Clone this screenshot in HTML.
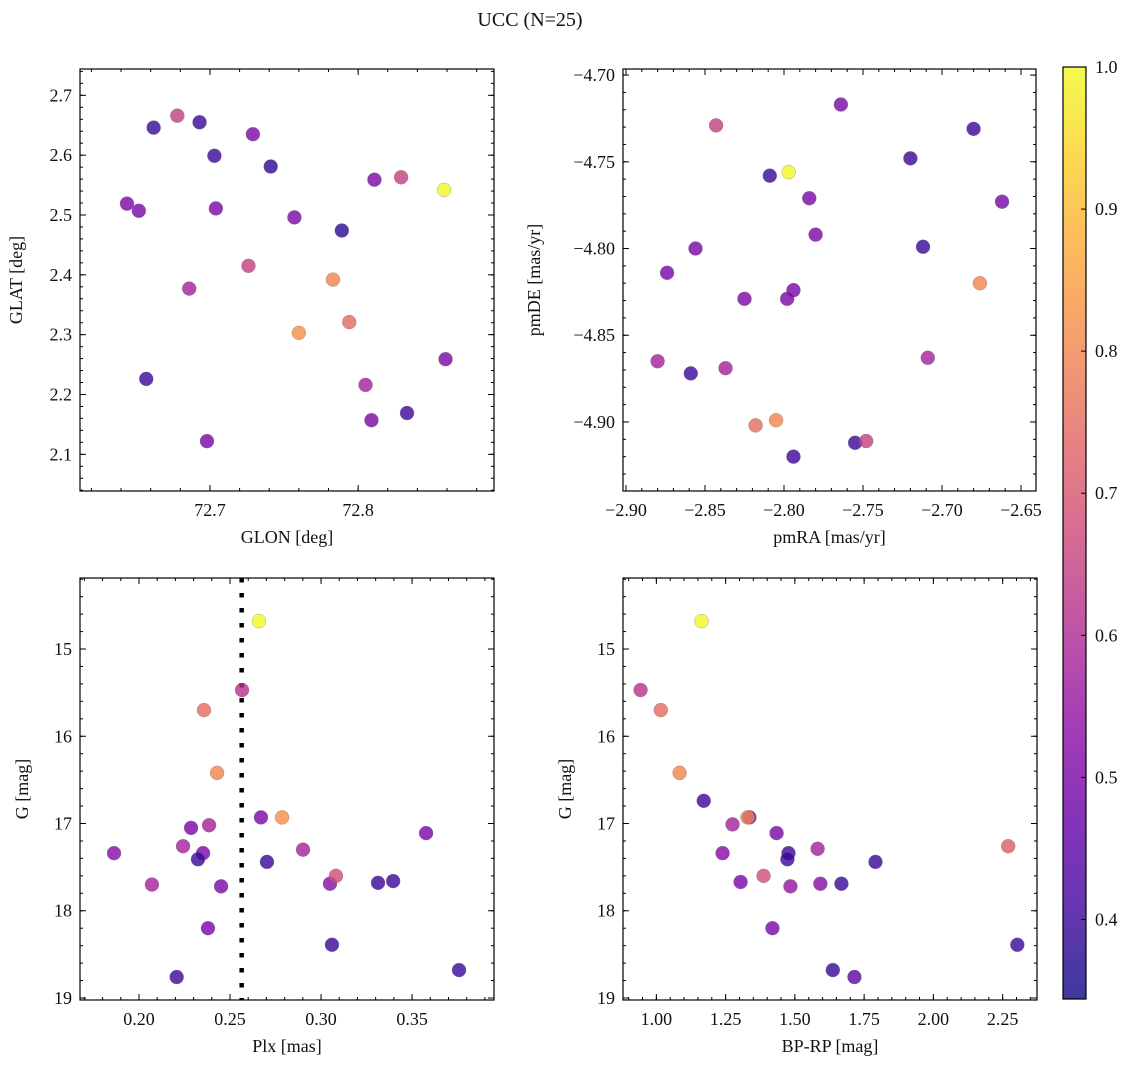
<!DOCTYPE html>
<html><head><meta charset="utf-8"><style>
body{margin:0;background:#fff;}
text{font-family:"Liberation Serif","DejaVu Serif",serif;fill:#111;}
</style></head><body>
<svg id="fig" width="1136" height="1067" viewBox="0 0 1136 1067" xmlns="http://www.w3.org/2000/svg">
<text x="530" y="26" font-size="20" text-anchor="middle" font-family="Liberation Serif, DejaVu Serif, serif">UCC (N=25)</text>
</svg>
<script>
// Panel 1: GLON vs GLAT
const glon = [72.662,72.678,72.693,72.703,72.729,72.741,72.811,72.829,72.858,72.644,72.652,72.704,72.757,72.789,72.726,72.686,72.783,72.760,72.794,72.657,72.805,72.859,72.833,72.809,72.698];
const glat = [2.646,2.666,2.655,2.599,2.635,2.581,2.559,2.563,2.542,2.519,2.507,2.511,2.496,2.474,2.415,2.377,2.392,2.303,2.321,2.226,2.216,2.259,2.169,2.157,2.122];
const prob1 = [0.40,0.65,0.40,0.40,0.50,0.38,0.50,0.65,1.00,0.50,0.50,0.50,0.50,0.38,0.65,0.58,0.80,0.82,0.75,0.40,0.58,0.50,0.40,0.50,0.50];
// Panel 2: pmRA vs pmDE
const pmra = [-2.764,-2.843,-2.680,-2.720,-2.809,-2.797,-2.662,-2.784,-2.780,-2.712,-2.856,-2.874,-2.794,-2.798,-2.825,-2.676,-2.880,-2.859,-2.837,-2.709,-2.805,-2.818,-2.755,-2.748,-2.794];
const pmde = [-4.717,-4.729,-4.731,-4.748,-4.758,-4.756,-4.773,-4.771,-4.792,-4.799,-4.800,-4.814,-4.824,-4.829,-4.829,-4.820,-4.865,-4.872,-4.869,-4.863,-4.899,-4.902,-4.912,-4.911,-4.920];
const prob2 = [0.50,0.65,0.40,0.40,0.40,1.00,0.50,0.50,0.50,0.40,0.50,0.50,0.50,0.50,0.50,0.80,0.58,0.40,0.58,0.58,0.80,0.75,0.40,0.65,0.40];
// Panel 3: Plx vs G
const plx = [0.2659,0.2566,0.2357,0.2429,0.2286,0.2385,0.2670,0.2786,0.2242,0.2352,0.2324,0.2901,0.3577,0.1863,0.2071,0.2451,0.2703,0.3049,0.3082,0.3313,0.3396,0.2379,0.3060,0.2207,0.3758];
const gmag3 = [14.68,15.47,15.70,16.42,17.05,17.02,16.93,16.93,17.26,17.34,17.41,17.30,17.11,17.34,17.70,17.72,17.44,17.69,17.60,17.68,17.66,18.20,18.39,18.76,18.68];
const prob3 = [1.00,0.62,0.75,0.80,0.50,0.58,0.50,0.82,0.58,0.50,0.40,0.58,0.50,0.52,0.58,0.50,0.40,0.52,0.68,0.40,0.40,0.50,0.40,0.40,0.40];
const plxLine = [0.2564];
// Panel 4: BP-RP vs G
const bprp = [1.163,0.943,1.016,1.084,1.171,1.336,1.329,1.275,1.434,1.239,1.477,1.473,1.582,1.791,2.270,1.304,1.387,1.484,1.592,1.668,1.419,2.303,1.637,1.715];
const gmag4 = [14.68,15.47,15.70,16.42,16.74,16.93,16.93,17.01,17.11,17.34,17.34,17.41,17.29,17.44,17.26,17.67,17.60,17.72,17.69,17.69,18.20,18.39,18.68,18.76];
const prob4 = [1.00,0.62,0.75,0.80,0.40,0.50,0.80,0.58,0.50,0.52,0.40,0.40,0.58,0.40,0.72,0.50,0.68,0.55,0.52,0.40,0.50,0.40,0.40,0.45];
// Colorbar
const cbTicks = [0.4,0.5,0.6,0.7,0.8,0.9,1.0];
const cbMin = 0.344, cbMax = 1.0;

const NS = "http://www.w3.org/2000/svg";
const FF = "Liberation Serif, DejaVu Serif, serif";
const svg = document.getElementById('fig');
function mk(tag, attrs, parent){const e=document.createElementNS(NS,tag);for(const k in attrs)e.setAttribute(k,attrs[k]);if(tag==='text')e.setAttribute('font-family',FF);(parent||svg).appendChild(e);return e;}

const plasmaStops = ["#0d0887","#41049d","#6a00a8","#8f0da4","#b12a90","#cc4778","#e16462","#f2844b","#fca636","#fcce25","#f0f921"];
function hex2rgb(h){return [parseInt(h.substr(1,2),16),parseInt(h.substr(3,2),16),parseInt(h.substr(5,2),16)];}
function plasma(t){t=Math.max(0,Math.min(1,t));const f=t*10;const i=Math.min(9,Math.floor(f));const u=f-i;const a=hex2rgb(plasmaStops[i]),b=hex2rgb(plasmaStops[i+1]);return `rgb(${a.map((v,k)=>Math.round(v+(b[k]-v)*u)).join(',')})`;}
function colorOf(p){return plasma((p-cbMin)/(cbMax-cbMin));}

function fmt(v,d){const s=Math.abs(v).toFixed(d);return (v<-1e-9?'\u2212':'')+s;}

function panel(c){
  const g=mk('g',{});
  
  
  const X=v=>c.L+(v-c.xmin)/(c.xmax-c.xmin)*(c.R-c.L);
  const Y=v=>c.B-(v-c.ymin)/(c.ymax-c.ymin)*(c.B-c.T);
  const tk=mk('g',{stroke:'#000','stroke-width':1},g);
  
  
  for(let v=Math.ceil(c.xmin/c.xminor-1e-6)*c.xminor; v<=c.xmax+1e-9; v+=c.xminor){const x=X(v);if(x<c.L||x>c.R)continue;mk('line',{x1:x,x2:x,y1:c.B,y2:c.B-3},tk);mk('line',{x1:x,x2:x,y1:c.T,y2:c.T+3},tk);}
  for(let v=Math.ceil(c.ymin/c.yminor-1e-6)*c.yminor; v<=c.ymax+1e-9; v+=c.yminor){const y=Y(v);if(y<c.T||y>c.B)continue;mk('line',{x1:c.L,x2:c.L+3,y1:y,y2:y},tk);mk('line',{x1:c.R,x2:c.R-3,y1:y,y2:y},tk);}
  c.xmaj.forEach(v=>{const x=X(v);mk('line',{x1:x,x2:x,y1:c.B,y2:c.B-6},tk);mk('line',{x1:x,x2:x,y1:c.T,y2:c.T+6},tk);
    const t=mk('text',{x:x,y:c.B+25,'font-size':18,'text-anchor':'middle'},g);t.textContent=fmt(v,c.xd);
    
    });
  c.ymaj.forEach(v=>{const y=Y(v);mk('line',{x1:c.L,x2:c.L+6,y1:y,y2:y},tk);mk('line',{x1:c.R,x2:c.R-6,y1:y,y2:y},tk);
    const t=mk('text',{x:c.L-8,y:y+6,'font-size':18,'text-anchor':'end'},g);t.textContent=c.yneg?fmt(-v,c.yd):fmt(v,c.yd);
    
    });
  if(c.vline){c.vline.forEach(v=>{const l=mk('line',{x1:X(v),x2:X(v),y1:c.T,y2:c.B,stroke:'#000','stroke-width':4.5,'stroke-dasharray':'4.5 10.5'},g);
    
    });}
  const pts=mk('g',{},g);
  
  
  c.xs.forEach((xv,i)=>{const p=mk('circle',{cx:X(xv),cy:Y(c.ys[i]),r:7,fill:colorOf(c.ps[i]),'fill-opacity':0.8,stroke:'#777','stroke-width':0.5,'stroke-opacity':0.6},pts);
    
    });
  const box=mk('rect',{x:c.L,y:c.T,width:c.R-c.L,height:c.B-c.T,fill:'none',stroke:'#000','stroke-width':1.2},g);
  
  
  const xl=mk('text',{x:(c.L+c.R)/2,y:c.B+52,'font-size':18,'text-anchor':'middle'},g);xl.textContent=c.xlab;
  
  
  const yx=c.L-c.ylOff,yy=(c.T+c.B)/2;
  const yl=mk('text',{x:yx,y:yy,'font-size':18,'text-anchor':'middle',transform:`rotate(-90 ${yx} ${yy})`},g);yl.textContent=c.ylab;
  
  
}

panel({name:'glon-glat-panel',L:80,R:494,T:69,B:491,xmin:72.6123,xmax:72.8917,ymin:2.0387,ymax:2.744,
  xmaj:[72.7,72.8],xminor:0.02,xd:1,ymaj:[2.1,2.2,2.3,2.4,2.5,2.6,2.7],yminor:0.02,yd:1,
  xs:glon,ys:glat,ps:prob1,xlab:'GLON [deg]',ylab:'GLAT [deg]',ylOff:58});
panel({name:'pm-panel',L:623,R:1036,T:69,B:491,xmin:-2.9019,xmax:-2.6405,ymin:-4.9398,ymax:-4.6965,
  xmaj:[-2.90,-2.85,-2.80,-2.75,-2.70,-2.65],xminor:0.01,xd:2,ymaj:[-4.90,-4.85,-4.80,-4.75,-4.70],yminor:0.01,yd:2,
  xs:pmra,ys:pmde,ps:prob2,xlab:'pmRA [mas/yr]',ylab:'pmDE [mas/yr]',ylOff:83});
panel({name:'plx-g-panel',L:80,R:494,T:578,B:1000,xmin:0.1676,xmax:0.395,ymin:-19.023,ymax:-14.186,yneg:true,
  xmaj:[0.20,0.25,0.30,0.35],xminor:0.01,xd:2,ymaj:[-19,-18,-17,-16,-15],yminor:0.2,yd:0,
  xs:plx,ys:gmag3.map(v=>-v),ps:prob3,xlab:'Plx [mas]',ylab:'G [mag]',ylOff:52,vline:plxLine});
panel({name:'cmd-panel',L:623,R:1037,T:578,B:1000,xmin:0.8796,xmax:2.374,ymin:-19.023,ymax:-14.186,yneg:true,
  xmaj:[1.00,1.25,1.50,1.75,2.00,2.25],xminor:0.05,xd:2,ymaj:[-19,-18,-17,-16,-15],yminor:0.2,yd:0,
  xs:bprp,ys:gmag4.map(v=>-v),ps:prob4,xlab:'BP-RP [mag]',ylab:'G [mag]',ylOff:52});

// Colorbar
const cb=mk('g',{});


const defs=mk('defs',{},cb);
const grad=mk('linearGradient',{id:'plasmaGrad',x1:0,y1:1,x2:0,y2:0},defs);
for(let i=0;i<=20;i++){const t=i/20;const p=cbMin+t*(cbMax-cbMin);mk('stop',{offset:t,'stop-color':colorOf(p),'stop-opacity':0.8},grad);}
const cbT=67,cbB=999,cbL=1063,cbR=1086;
mk('rect',{x:cbL,y:cbT,width:cbR-cbL,height:cbB-cbT,fill:'url(#plasmaGrad)',stroke:'#000','stroke-width':1.2},cb);
const CY=v=>cbB-(v-cbMin)/(cbMax-cbMin)*(cbB-cbT);
cbTicks.forEach(v=>{const y=CY(v);mk('line',{x1:cbR,x2:cbR-5,y1:y,y2:y,stroke:'#000'},cb);
  const t=mk('text',{x:cbR+9,y:y+6,'font-size':18},cb);t.textContent=v.toFixed(1);
  
  });
</script>
</body></html>
